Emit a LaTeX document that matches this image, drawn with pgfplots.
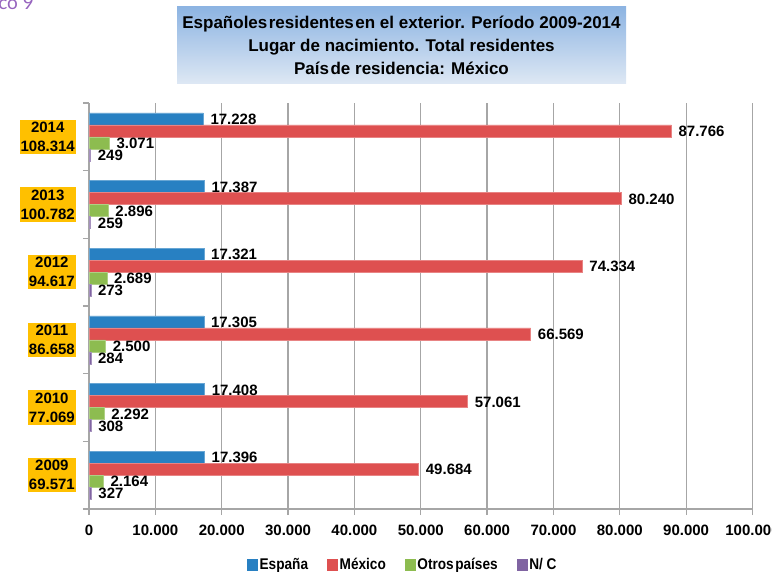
\documentclass[border=0pt]{standalone}
\usepackage{pgfplots}
\pgfplotsset{compat=1.18}
\usepackage{pgfplotstable}
\usepackage{fontspec}
\setmainfont{Liberation Sans}
\newfontfamily\narrowfont[FakeStretch=0.88]{Liberation Sans}
\newfontfamily\lightfont{Lato}
\definecolor{cEsp}{RGB}{40,128,194}
\definecolor{cMex}{RGB}{222,80,80}
\definecolor{cOtr}{RGB}{141,188,80}
\definecolor{cNC}{RGB}{128,100,162}
\definecolor{cGrid}{RGB}{166,166,166}
\definecolor{cOrange}{RGB}{255,192,0}
\definecolor{cTitTop}{RGB}{141,180,226}
\definecolor{cTitBot}{RGB}{222,232,244}
\definecolor{cPurp}{RGB}{150,100,190}

\pgfplotstableread{
y esp mex otr nc
0 17396 49684 2164 327
1 17408 57061 2292 308
2 17305 66569 2500 284
3 17321 74334 2689 273
4 17387 80240 2896 259
5 17228 87766 3071 249
}\datatab

\begin{document}
\begin{tikzpicture}[x=1pt,y=1pt]
\useasboundingbox (0,0) rectangle (772,571);
% partial heading at top left
\node[anchor=base east, inner sep=0pt, text=cPurp, font=\lightfont\fontsize{19}{22}\selectfont] at (34,561.5) {Gráfico 9};
% title box
\shade[top color=cTitTop, bottom color=cTitBot] (177,564) rectangle (626,487);
\node[anchor=base, inner sep=0pt, font=\bfseries\fontsize{17}{20}\selectfont] at (401.5,542) {Españoles\hspace{1.5pt}residentes\hspace{1.5pt}en el exterior. Período 2009-2014};
\node[anchor=base, inner sep=0pt, font=\bfseries\fontsize{17}{20}\selectfont] at (401.5,519) {Lugar de nacimiento. Total residentes};
\node[anchor=base, inner sep=0pt, font=\bfseries\fontsize{17}{20}\selectfont] at (401.5,496) {País\hspace{1.5pt}de residencia: México};

\begin{axis}[
  at={(89pt,62pt)}, anchor=south west,
  scale only axis, width=663.5pt, height=406pt,
  bar width=0.177,
  xmin=0, xmax=100000, ymin=-0.5, ymax=5.5,
  xtick={0,10000,...,100000},
  minor xtick={0,10000,...,100000},
  ytick={0,...,5},
  minor ytick={-0.5,0.5,...,5.5},
  yticklabels={{2009\\69.571},{2010\\77.069},{2011\\86.658},{2012\\94.617},{2013\\100.782},{2014\\108.314}},
  scaled x ticks=false,
  /pgf/number format/fixed,
  /pgf/number format/precision=0,
  /pgf/number format/1000 sep={.},
  /pgf/number format/assume math mode=true,
  axis x line*=bottom, axis y line*=left,
  xmajorgrids,
  major grid style={cGrid, line width=1.3pt},
  axis line style={cGrid, line width=1.3pt},
  tick style={cGrid, line width=1.3pt},
  major tick length=0pt, minor tick length=6pt,
  tick align=outside,
  xticklabel style={font=\bfseries\fontsize{15}{18}\selectfont, yshift=-12pt},
  yticklabel style={font=\bfseries\fontsize{15}{19}\selectfont, align=center, fill=cOrange, inner xsep=1pt, inner ysep=2.5pt, anchor=east, xshift=-13pt},
  point meta=x,
  nodes near coords,
  every node near coord/.append style={font=\bfseries\fontsize{15}{18}\selectfont, anchor=west, inner sep=0pt, xshift=7pt, text=black},
  legend columns=4,
  legend style={at={(0.473,-0.138)}, anchor=center, draw=none, fill=none,
    font=\narrowfont\bfseries\fontsize{15.5}{18}\selectfont,
    /tikz/every even column/.append style={column sep=17pt},
    /tikz/every odd column/.append style={column sep=0pt}},
  legend cell align=left,
]
\addplot[xbar, fill=cEsp, draw=cEsp!70!white, line width=0.5pt, bar shift=0.2655,
  every node near coord/.append style={yshift=17.5pt},
  legend image code/.code={\fill[cEsp] (0pt,-5.5pt) rectangle (10pt,5.5pt);}]
  table[x=esp, y=y] {\datatab};
\addplot[xbar, fill=cMex, draw=cMex!70!white, line width=0.5pt, bar shift=0.0885,
  every node near coord/.append style={yshift=5.5pt},
  legend image code/.code={\fill[cMex] (0pt,-5.5pt) rectangle (10pt,5.5pt);}]
  table[x=mex, y=y] {\datatab};
\addplot[xbar, fill=cOtr, draw=cOtr!70!white, line width=0.5pt, bar shift=-0.0885,
  every node near coord/.append style={yshift=-6.5pt},
  legend image code/.code={\fill[cOtr] (0pt,-5.5pt) rectangle (10pt,5.5pt);}]
  table[x=otr, y=y] {\datatab};
\addplot[xbar, fill=cNC, draw=cNC!70!white, line width=0.5pt, bar shift=-0.2655,
  every node near coord/.append style={yshift=-18.5pt},
  legend image code/.code={\fill[cNC] (0pt,-5.5pt) rectangle (10pt,5.5pt);}]
  table[x=nc, y=y] {\datatab};
\legend{España, México, Otros\hspace{1.5pt}países, N/ C}
\end{axis}
\end{tikzpicture}
\end{document}
